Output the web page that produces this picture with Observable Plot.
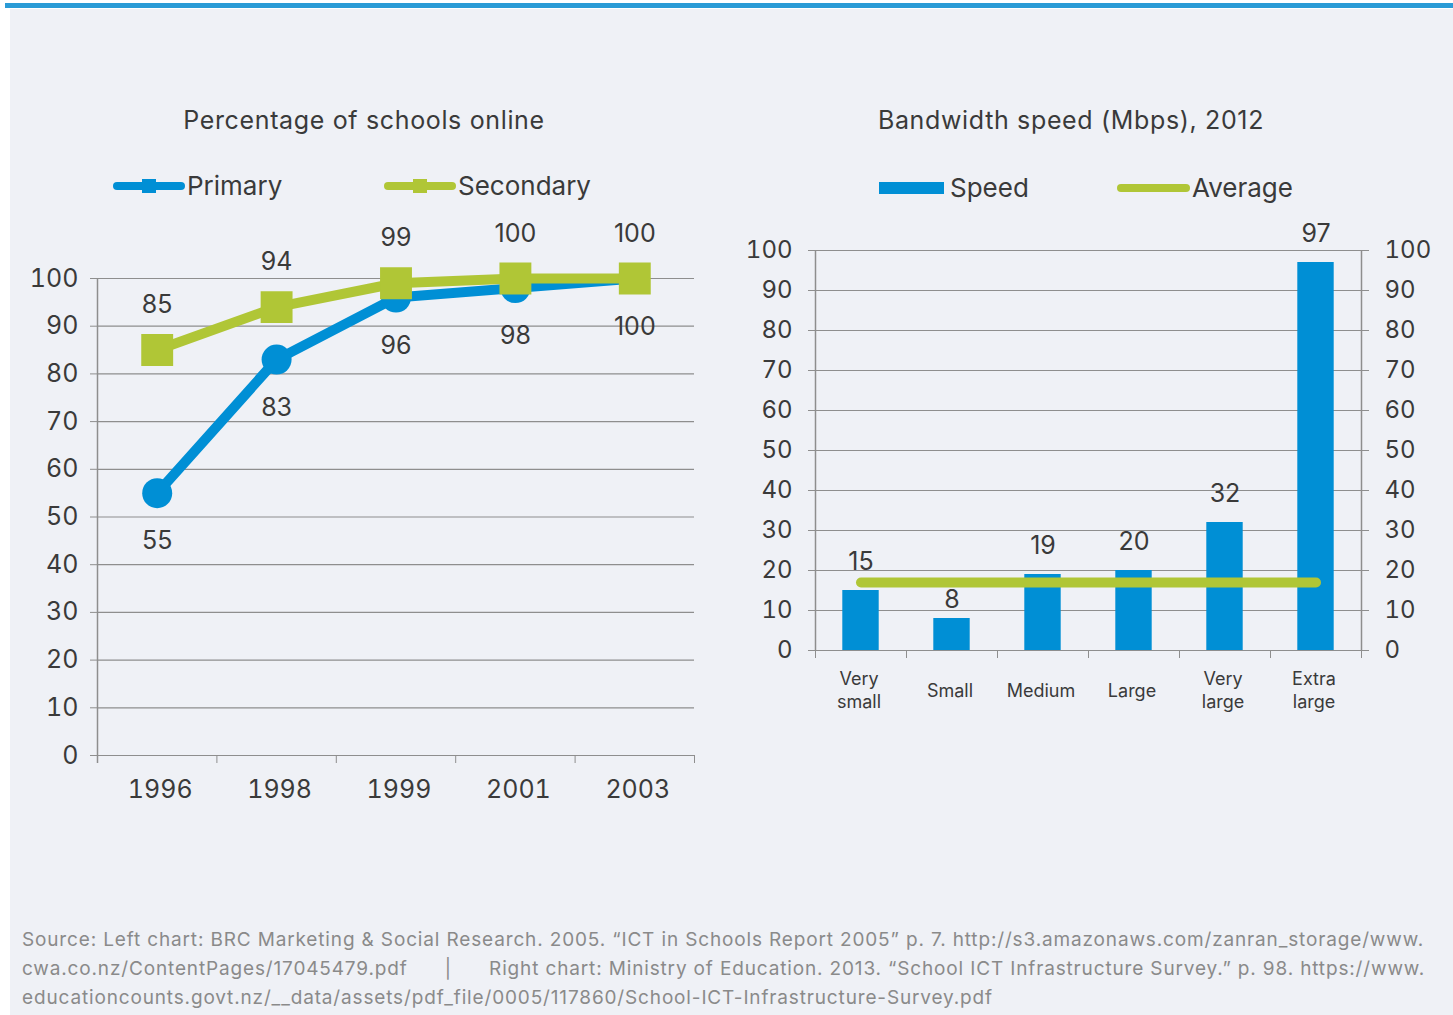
<!DOCTYPE html>
<html>
<head>
<meta charset="utf-8">
<script src="https://cdn.jsdelivr.net/npm/d3@7"></script>
<script src="https://cdn.jsdelivr.net/npm/@observablehq/plot@0.6"></script>
<style>
  html, body { margin: 0; padding: 0; background: #ffffff; }
  body { width: 1453px; height: 1015px; position: relative; overflow: hidden;
         font-family: Inter, Roboto, "Liberation Sans", sans-serif; font-weight: 400; color: #3a3a3a; }
  #topbar { position: absolute; left: 5px; top: 3px; width: 1448px; height: 5px; background: #2a9bd6; }
  #panel { position: absolute; left: 10px; top: 9px; right: 0; bottom: 0; background: #eff1f6; }
  .title { position: absolute; top: 105px; font-size: 25px; letter-spacing: 0.65px; text-align: center; white-space: nowrap; }
  .legend { position: absolute; font-size: 26px; white-space: nowrap; display: flex; align-items: center; }
  .legend svg { display: block; }
  #left, #right { position: absolute; }
  #left { left: 0; top: 220px; }
  #right { left: 720px; top: 220px; }
  #caption { position: absolute; left: 22px; top: 925px; font-size: 19px; letter-spacing: 0.85px; line-height: 29px; color: #8a8a8a; white-space: pre; }
</style>
</head>
<body>
<div id="topbar"></div>
<div id="panel"></div>

<div class="title" style="left:114px;width:500px;">Percentage of schools online</div>
<div class="title" style="left:821px;width:500px;">Bandwidth speed (Mbps), 2012</div>

<div class="legend" style="left:111px;top:170px;">
  <svg width="76" height="20"><line x1="6" y1="10" x2="70" y2="10" stroke="#008fd5" stroke-width="8" stroke-linecap="round"/><rect x="31" y="3" width="14" height="14" fill="#008fd5"/></svg><span>Primary</span>
</div>
<div class="legend" style="left:382px;top:170px;">
  <svg width="76" height="20"><line x1="6" y1="10" x2="70" y2="10" stroke="#b0c636" stroke-width="8" stroke-linecap="round"/><rect x="31" y="3" width="14" height="14" fill="#b0c636"/></svg><span>Secondary</span>
</div>
<div class="legend" style="left:879px;top:172px;">
  <svg width="71" height="20"><rect x="0" y="4" width="65" height="12" fill="#008fd5"/></svg><span>Speed</span>
</div>
<div class="legend" style="left:1115px;top:172px;">
  <svg width="77" height="20"><line x1="6" y1="10" x2="71" y2="10" stroke="#b0c636" stroke-width="8" stroke-linecap="round"/></svg><span>Average</span>
</div>

<div id="left"></div>
<div id="right"></div>

<div id="caption">Source: Left chart: BRC Marketing &amp; Social Research. 2005. “ICT in Schools Report 2005” p. 7. http://s3.amazonaws.com/zanran_storage/www.
cwa.co.nz/ContentPages/17045479.pdf      |      Right chart: Ministry of Education. 2013. “School ICT Infrastructure Survey.” p. 98. https://www.
educationcounts.govt.nz/__data/assets/pdf_file/0005/117860/School-ICT-Infrastructure-Survey.pdf</div>

<script>
// ---- data ----
const years = ["1996", "1998", "1999", "2001", "2003"];
const primary = [55, 83, 96, 98, 100];
const secondary = [85, 94, 99, 100, 100];

const sizes = ["Very\nsmall", "Small", "Medium", "Large", "Very\nlarge", "Extra\nlarge"];
const speed = [15, 8, 19, 20, 32, 97];
const average = 17;

const yTicks = [0, 10, 20, 30, 40, 50, 60, 70, 80, 90, 100];

const BLUE = "#008fd5";
const GREEN = "#b0c636";
const GRID = "#8e8e8e";
const TEXT = "#3a3a3a";
const FONT = "Inter, Roboto, 'Liberation Sans', sans-serif";

// ---- left chart ----
const lineData = years.map((y, i) => ({i, year: y, primary: primary[i], secondary: secondary[i]}));
const leftBounds = d3.range(years.length + 1).map(k => k - 0.5);

const left = Plot.plot({
  width: 720, height: 600,
  marginLeft: 97, marginRight: 26, marginTop: 58, marginBottom: 65,
  style: {background: "transparent", fontFamily: FONT, fontWeight: 400, color: TEXT, overflow: "visible"},
  x: {domain: [-0.5, years.length - 0.5], axis: null},
  y: {domain: [0, 100], axis: null},
  marks: [
    Plot.gridY(yTicks, {stroke: GRID, strokeOpacity: 1, strokeWidth: 1.2}),
    Plot.ruleX([-0.5], {stroke: GRID, strokeWidth: 1.5, insetBottom: -8}),
    Plot.axisY(yTicks, {anchor: "left", label: null, tickSize: 7, tickPadding: 12, fontSize: 25, stroke: GRID, fill: TEXT}),
    Plot.axisX(leftBounds, {anchor: "bottom", label: null, tickSize: 8, tickFormat: () => "", stroke: GRID}),
    Plot.axisX(d3.range(years.length), {anchor: "bottom", label: null, tickSize: 0, tickPadding: 25, tickFormat: i => years[i], fontSize: 25, fill: TEXT, dx: 3}),
    Plot.line(lineData, {x: "i", y: "primary", stroke: BLUE, strokeWidth: 10}),
    Plot.dot(lineData, {x: "i", y: "primary", r: 15, fill: BLUE}),
    Plot.text(lineData, {x: "i", y: "primary", text: d => String(d.primary), dy: 48, fontSize: 25, fill: TEXT}),
    Plot.line(lineData, {x: "i", y: "secondary", stroke: GREEN, strokeWidth: 10}),
    Plot.dot(lineData, {x: "i", y: "secondary", r: 18, symbol: "square", fill: GREEN}),
    Plot.text(lineData, {x: "i", y: "secondary", text: d => String(d.secondary), dy: -45, fontSize: 25, fill: TEXT})
  ]
});
document.getElementById("left").appendChild(left);

// ---- right chart ----
const barData = sizes.map((s, i) => ({i, size: s, speed: speed[i]}));
const rightBounds = d3.range(sizes.length + 1).map(k => k - 0.5);
// a label whose usual spot would sit on the average line is tucked closer to its bar
const clashes = d => Math.abs(d.speed + 7 - average) < 4.5;

const right = Plot.plot({
  width: 733, height: 510,
  marginLeft: 95, marginRight: 92, marginTop: 30, marginBottom: 80,
  style: {background: "transparent", fontFamily: FONT, fontWeight: 400, color: TEXT, overflow: "visible"},
  x: {domain: [-0.5, sizes.length - 0.5], axis: null},
  y: {domain: [0, 100], axis: null},
  marks: [
    Plot.gridY(yTicks, {stroke: GRID, strokeOpacity: 1, strokeWidth: 1.2}),
    Plot.ruleX([-0.5, sizes.length - 0.5], {stroke: GRID, strokeWidth: 1.5}),
    Plot.axisY(yTicks, {anchor: "left", label: null, tickSize: 7, tickPadding: 16, fontSize: 24, stroke: GRID, fill: TEXT}),
    Plot.axisY(yTicks, {anchor: "right", label: null, tickSize: 7, tickPadding: 16, fontSize: 24, stroke: GRID, fill: TEXT}),
    Plot.axisX(rightBounds, {anchor: "bottom", label: null, tickSize: 8, tickFormat: () => "", stroke: GRID}),
    Plot.rectY(barData, {x1: d => d.i - 0.2, x2: d => d.i + 0.2, y1: 0, y2: "speed", fill: BLUE}),
    Plot.text(barData, {x: "i", y: 0, text: "size", dy: 39, lineAnchor: "middle", lineHeight: 1.25, fontSize: 18, fill: TEXT, dx: -2}),
    Plot.line(barData, {x: "i", y: () => average, stroke: GREEN, strokeWidth: 10, strokeLinecap: "round"}),
    Plot.text(barData.filter(d => !clashes(d)), {x: "i", y: "speed", text: d => String(d.speed), dy: -29, fontSize: 25, fill: TEXT}),
    Plot.text(barData.filter(clashes), {x: "i", y: "speed", text: d => String(d.speed), dy: -19, fontSize: 25, fill: TEXT})
  ]
});
document.getElementById("right").appendChild(right);
</script>
</body>
</html>
